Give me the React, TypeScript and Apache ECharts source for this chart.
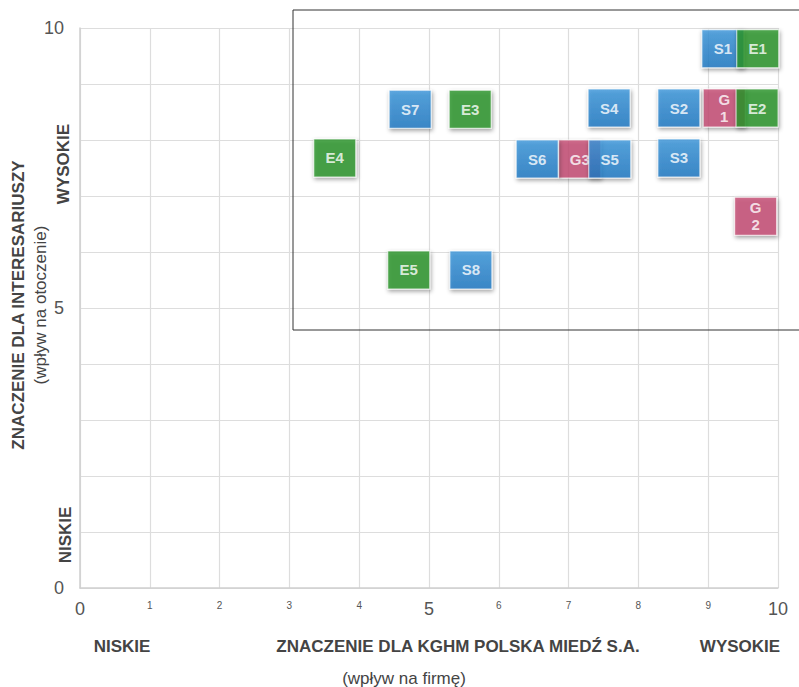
import React, { useEffect, useRef } from "react";
import * as echarts from "echarts";

const sLabels = ["S1", "S2", "S3", "S4", "S5", "S6", "S7", "S8"];
const sX = [9.21, 8.58, 8.58, 7.58, 7.59, 6.55, 4.73, 5.6];
const sY = [9.63, 8.57, 7.68, 8.57, 7.66, 7.66, 8.55, 5.68];

const eLabels = ["E1", "E2", "E3", "E4", "E5"];
const eX = [9.71, 9.7, 5.59, 3.65, 4.71];
const eY = [9.63, 8.57, 8.55, 7.68, 5.68];

const gLabels = ["G\n1", "G\n2", "G3"];
const gX = [9.23, 9.68, 7.16];
const gY = [8.57, 6.64, 7.66];

const bigTicks = [0, 5, 10];

const FONT = "Liberation Sans, Arial, sans-serif";

function build(labels: string[], xs: number[], ys: number[]) {
  return labels.map((l, i) => ({ name: l, value: [xs[i], ys[i]] }));
}

export default function App() {
  const ref = useRef<HTMLDivElement>(null);
  useEffect(() => {
    if (!ref.current) return;
    const chart = echarts.init(ref.current, undefined, { renderer: "svg" });
    const markerStyle = (color: any) => ({
      color,
      borderColor: "rgba(255,255,255,0.9)",
      borderWidth: 1,
      shadowBlur: 4,
      shadowColor: "rgba(0,0,0,0.45)",
      shadowOffsetX: 1,
      shadowOffsetY: 2,
    });
    const labelCfg = {
      show: true,
      position: "inside",
      formatter: (p: any) => {
        const n: string = p.name;
        if (n.indexOf("\n") >= 0) {
          const [a, b] = n.split("\n");
          return "{g|" + a + "}\n{n|" + b + "}";
        }
        return n;
      },
      color: "#fff",
      fontWeight: "bold",
      fontSize: 15,
      fontFamily: FONT,
      rich: {
        g: { color: "#fff", fontSize: 15, fontFamily: FONT, lineHeight: 17 },
        n: { color: "#fff", fontSize: 15, fontWeight: "bold", fontFamily: FONT, lineHeight: 17 },
      },
    };
    const titleStyle = { fill: "#444", font: "bold 17px " + FONT };
    const subStyle = { fill: "#444", font: "17px " + FONT };
    chart.setOption({
      animation: false,
      grid: { left: 80, right: 21, top: 28, bottom: 99, containLabel: false },
      xAxis: {
        type: "value",
        min: 0,
        max: 10,
        interval: 1,
        axisLine: { show: true, lineStyle: { color: "#cfcfcf", width: 1.5 } },
        axisTick: { show: false },
        splitLine: { show: true, lineStyle: { color: "#dddddd", width: 1.2 } },
        axisLabel: {
          margin: 12,
          formatter: (v: number) =>
            bigTicks.indexOf(v) >= 0 ? "{big|" + v + "}" : "{small|" + v + "}",
          rich: {
            big: { fontSize: 18, color: "#555", fontFamily: FONT },
            small: { fontSize: 10, color: "#555", fontFamily: FONT, padding: [0, 0, 8, 0] },
          },
        },
      },
      yAxis: {
        type: "value",
        min: 0,
        max: 10,
        interval: 1,
        axisLine: { show: true, lineStyle: { color: "#cfcfcf", width: 1.5 } },
        axisTick: { show: false },
        splitLine: { show: true, lineStyle: { color: "#dddddd", width: 1.2 } },
        axisLabel: {
          margin: 16,
          formatter: (v: number) => (bigTicks.indexOf(v) >= 0 ? String(v) : ""),
          fontSize: 18,
          color: "#555",
          fontFamily: FONT,
        },
      },
      series: [
        {
          type: "scatter",
          symbol: "rect",
          symbolSize: [42, 38],
          data: build(gLabels, gX, gY),
          itemStyle: markerStyle("#c54e74"),
          label: labelCfg,
          z: 2,
        },
        {
          type: "scatter",
          symbol: "rect",
          symbolSize: [42, 38],
          data: build(sLabels, sX, sY),
          itemStyle: markerStyle(
            new echarts.graphic.LinearGradient(0, 0, 0, 1, [
              { offset: 0, color: "#3e98dc" },
              { offset: 1, color: "#1d79c4" },
            ])
          ),
          label: labelCfg,
          z: 3,
        },
        {
          type: "scatter",
          symbol: "rect",
          symbolSize: [42, 38],
          data: build(eLabels, eX, eY),
          itemStyle: markerStyle("#2a9629"),
          label: labelCfg,
          z: 4,
        },
      ],
      graphic: [
        {
          type: "rect",
          shape: { x: 293, y: 10, width: 540, height: 320 },
          style: { fill: "none", stroke: "#333", lineWidth: 1 },
          z: 1,
        },
        {
          type: "text",
          x: 18,
          y: 305,
          rotation: Math.PI / 2,
          style: { text: "ZNACZENIE DLA INTERESARIUSZY", align: "center", verticalAlign: "middle", ...titleStyle },
        },
        {
          type: "text",
          x: 40,
          y: 305,
          rotation: Math.PI / 2,
          style: { text: "(wpływ na otoczenie)", align: "center", verticalAlign: "middle", ...subStyle },
        },
        {
          type: "text",
          x: 63,
          y: 164,
          rotation: Math.PI / 2,
          style: { text: "WYSOKIE", align: "center", verticalAlign: "middle", ...titleStyle },
        },
        {
          type: "text",
          x: 65,
          y: 535,
          rotation: Math.PI / 2,
          style: { text: "NISKIE", align: "center", verticalAlign: "middle", ...titleStyle },
        },
        {
          type: "text",
          x: 122,
          y: 646,
          style: { text: "NISKIE", align: "center", verticalAlign: "middle", ...titleStyle },
        },
        {
          type: "text",
          x: 458,
          y: 646,
          style: { text: "ZNACZENIE DLA KGHM POLSKA MIEDŹ S.A.", align: "center", verticalAlign: "middle", ...titleStyle },
        },
        {
          type: "text",
          x: 740,
          y: 646,
          style: { text: "WYSOKIE", align: "center", verticalAlign: "middle", ...titleStyle },
        },
        {
          type: "text",
          x: 404,
          y: 678,
          style: { text: "(wpływ na firmę)", align: "center", verticalAlign: "middle", ...subStyle },
        },
      ],
    });
    return () => chart.dispose();
  }, []);
  return <div ref={ref} style={{ width: 799, height: 687, position: "absolute", left: 0, top: 0 }} />;
}
